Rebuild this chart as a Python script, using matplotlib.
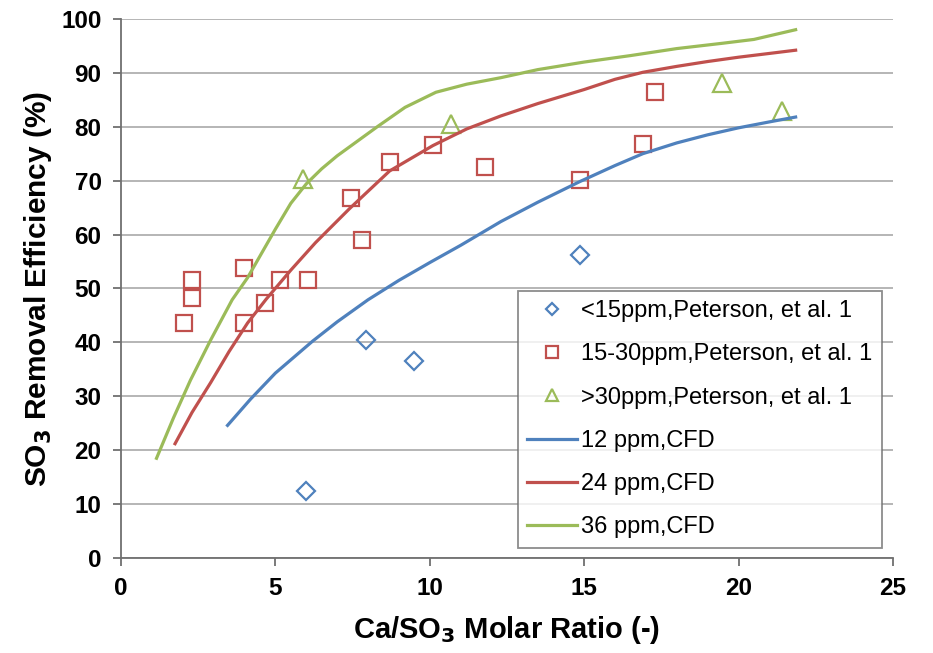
import matplotlib.pyplot as plt
import numpy as np

plt.rcParams['font.family'] = ['Liberation Sans', 'DejaVu Sans']

# experimental points (Peterson et al.)
low_x = [6.0, 7.95, 9.5, 14.85]
low_y = [12.4, 40.4, 36.6, 56.3]

mid_x = [2.05, 2.3, 2.3, 3.98, 3.98, 4.65, 5.15, 6.05, 7.45, 7.8, 8.7, 10.1, 11.8, 14.85, 16.9, 17.3]
mid_y = [43.6, 48.3, 51.6, 53.8, 43.6, 47.3, 51.6, 51.6, 66.8, 59.0, 73.5, 76.6, 72.6, 70.2, 76.8, 86.4]

high_x = [5.9, 10.7, 19.45, 21.4]
high_y = [70.3, 80.5, 88.2, 83.0]

# CFD curves
cfd12_x = [3.45, 4.2, 5.0, 6.2, 7.0, 8.0, 9.0, 10.0, 11.0, 12.3, 13.5, 14.85, 16.0, 16.9, 18.0, 19.0, 20.0, 21.0, 21.85]
cfd12_y = [24.6, 29.5, 34.3, 40.2, 43.8, 47.9, 51.5, 54.8, 58.0, 62.4, 66.0, 69.8, 72.8, 75.0, 77.0, 78.5, 79.8, 80.9, 81.8]

cfd24_x = [1.75, 2.3, 2.9, 3.5, 4.1, 4.7, 5.5, 6.3, 7.4, 8.7, 10.1, 11.2, 12.3, 13.5, 15.0, 16.0, 16.9, 18.0, 19.0, 20.0, 21.0, 21.85]
cfd24_y = [21.2, 27.0, 32.5, 38.3, 43.6, 48.0, 53.4, 58.5, 64.8, 71.8, 76.5, 79.6, 82.0, 84.3, 86.9, 88.8, 90.1, 91.2, 92.1, 92.9, 93.6, 94.2]

cfd36_x = [1.15, 1.7, 2.25, 2.9, 3.6, 4.1, 5.0, 5.5, 6.0, 6.5, 7.0, 8.3, 9.2, 10.2, 11.2, 12.3, 13.5, 15.0, 16.5, 18.0, 19.5, 20.5, 21.85]
cfd36_y = [18.5, 26.0, 33.0, 40.4, 47.9, 52.0, 61.0, 65.8, 69.4, 72.2, 74.6, 80.0, 83.6, 86.4, 87.9, 89.1, 90.6, 92.0, 93.2, 94.5, 95.5, 96.2, 98.0]

blue = '#4F81BD'
red = '#C0504D'
green = '#9BBB59'

fig = plt.figure(figsize=(9.33, 6.53), dpi=100)
ax = fig.add_axes([0.1297, 0.1455, 0.8273, 0.8255])

ax.plot(low_x, low_y, 'D', ms=9, mfc='none', mec=blue, mew=1.6, ls='none',
        label='<15ppm,Peterson, et al. 1')
ax.plot(mid_x, mid_y, 's', ms=12, mfc='none', mec=red, mew=1.6, ls='none',
        label='15-30ppm,Peterson, et al. 1')
ax.plot(high_x, high_y, '^', ms=13, mfc='none', mec=green, mew=1.6, ls='none',
        label='>30ppm,Peterson, et al. 1')
ax.plot(cfd12_x, cfd12_y, color=blue, lw=2.3, label='12 ppm,CFD')
ax.plot(cfd24_x, cfd24_y, color=red, lw=2.3, label='24 ppm,CFD')
ax.plot(cfd36_x, cfd36_y, color=green, lw=2.3, label='36 ppm,CFD')

ax.set_xlim(0, 25)
ax.set_ylim(0, 100)
ax.set_xticks(np.arange(0, 26, 5))
ax.set_yticks(np.arange(0, 101, 10))
ax.grid(axis='y', color='#b0b0b0', lw=1.3)
ax.set_axisbelow(True)

for s in ['top', 'right']:
    ax.spines[s].set_visible(False)
for s in ['left', 'bottom']:
    ax.spines[s].set_color('#707070')
    ax.spines[s].set_linewidth(1.3)
ax.tick_params(direction='out', length=6, width=1.3, color='#707070',
               labelsize=17.5, pad=8)
for lab in ax.get_xticklabels() + ax.get_yticklabels():
    lab.set_fontweight('bold')

ax.set_xlabel(r'Ca/SO$_\mathbf{3}$ Molar Ratio (-)', fontsize=21, fontweight='bold', labelpad=10)
ax.set_ylabel(r'SO$_\mathbf{3}$ Removal Efficiency (%)', fontsize=21.5, fontweight='bold', labelpad=5)

leg = ax.legend(loc='lower right', bbox_to_anchor=(0.986, 0.019), fontsize=17,
                frameon=True, fancybox=False, edgecolor='#707070', markerscale=0.7,
                handlelength=2.1, handletextpad=0.2, labelspacing=0.9,
                borderpad=0.4, borderaxespad=0)
leg.get_frame().set_linewidth(1.3)

fig.savefig('out.png', dpi=100)
